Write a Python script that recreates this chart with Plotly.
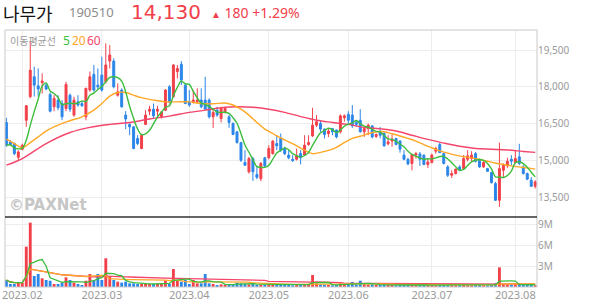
import pandas as pd
import plotly.graph_objects as go

# ---------------- data ----------------
HOLIDAYS = ["2023-03-01", "2023-05-01", "2023-05-05", "2023-05-29", "2023-06-06"]
dates = [d for d in pd.bdate_range("2023-01-26", "2023-08-08")
         if d.strftime("%Y-%m-%d") not in HOLIDAYS]

open_ = [16550,15760,15690,15130,15460,16640,17600,18410,18040,18170,
         18070,17690,17190,17460,17320,17120,17660,16850,17390,17320,
         16780,17870,18510,18070,18480,18210,19050,19050,17660,17870,
         16850,16470,16370,15900,15490,16470,17010,17090,17010,16780,
         17050,18000,17600,18620,18920,18070,17390,17390,17390,17460,
         17460,17460,16780,17050,16710,16980,16780,16510,16170,15730,
         14920,14540,15080,14430,14260,15110,15110,15280,15690,15900,
         15490,15220,15050,15050,15280,15220,15650,16000,16440,16510,
         16280,16100,16300,16240,16170,16740,16880,16850,16550,16640,
         16170,16300,16410,15980,16170,16100,15680,15790,15900,15790,
         15220,15050,14880,15220,15270,15220,14840,14920,15380,15650,
         15280,14740,14400,14470,14740,14670,15050,15080,15280,15010,
         14740,14670,14510,14060,13380,14600,14780,15050,14920,15150,
         14740,14470,14200,13950]

high = [16740,15830,15730,15420,15690,17260,19840,18820,18750,18550,
        18140,17770,17660,17660,17460,18210,17730,17600,17660,17420,
        17960,18620,18890,18750,19230,19770,19700,19160,18140,17940,
        17010,16510,16410,16030,16090,17050,17230,17320,17230,17010,
        17910,18070,18920,18890,19050,18140,17870,17870,17940,17940,
        18410,17530,17050,17190,17190,17190,16850,16550,16200,15760,
        15420,15150,15150,14740,14940,15150,15620,15830,16030,16100,
        15560,15420,15220,15490,15420,16030,16030,17150,16850,16640,
        16300,16300,16330,16260,16880,16880,17010,17260,16640,17090,
        16370,16510,16440,16100,16370,16170,16030,16060,15920,15830,
        15420,15110,15280,15350,15350,15240,15080,15280,15560,15730,
        15320,14810,14600,14670,14810,15220,15420,15380,15350,15080,
        14970,14700,14540,14130,15730,14880,15110,15220,15420,15680,
        14810,14510,14330,14200]

low = [15560,15600,15220,14970,15420,16370,17530,17600,17600,17730,
       17870,16960,17010,17050,16640,17010,16980,16780,17190,17190,
       16640,17800,17800,17870,17800,18140,18750,17940,17600,17150,
       16280,16030,15460,15620,15460,16440,16850,16710,16780,16710,
       17010,17320,17560,18340,18070,17300,17190,17320,17320,17120,
       17050,16710,16330,16780,16550,16920,16330,16030,15690,14940,
       14780,14470,14170,14240,14160,14740,15050,15240,15420,15350,
       15220,15050,14940,15000,14840,15190,15600,15960,16370,16170,
       15900,15960,16030,15900,16100,16580,16470,16330,16370,16140,
       15960,16030,15900,15920,15900,15560,15620,15560,15620,15320,
       15010,14810,14600,15080,14780,14810,14700,14880,15280,15320,
       14840,14330,14290,14430,14560,14650,14970,14970,14920,14700,
       14700,14540,14060,13350,13110,14330,14700,14810,14880,14810,
       14430,14200,13920,13860]

close = [15620,15650,15280,15350,15620,17230,18680,18070,17910,18240,
         17910,17010,17530,17150,16780,18100,17090,17460,17260,17230,
         17940,18410,17870,18000,17870,18890,19300,18000,17800,17190,
         16690,16370,15490,15690,16030,16850,17090,16820,17090,16980,
         17870,17390,18890,18750,18280,17320,17260,17460,17460,17190,
         17090,16780,16960,16850,17120,17120,16550,16060,15730,15010,
         14810,15080,14540,14320,14880,14780,15490,15790,15600,15420,
         15280,15110,15000,15190,15110,15620,15730,16440,16580,16280,
         16060,16200,16170,15960,16820,16820,16640,16410,16470,16170,
         16300,16440,15960,16060,16030,15600,15760,15870,15650,15460,
         15050,14860,15240,15280,15050,14840,14940,15220,15490,15320,
         14880,14400,14470,14650,14600,15080,15190,15220,14970,14740,
         14920,14560,14100,13380,14670,14840,14970,14970,15080,14880,
         14470,14240,13950,14130]

volume_k = [1000,430,430,620,620,5760,9190,1570,1860,1240,
            1000,900,430,430,620,1380,1000,620,430,290,
            900,1860,1000,1860,1000,4100,1570,1000,760,620,
            760,520,520,430,430,430,430,430,430,430,
            900,430,2570,900,760,1000,430,1000,520,520,
            1860,520,430,290,380,290,330,380,620,520,
            430,380,430,290,330,290,380,520,380,330,
            290,290,240,290,330,430,380,1710,520,380,
            330,290,240,290,520,330,430,710,330,900,
            380,330,380,290,290,430,290,290,240,290,
            330,290,380,240,290,330,240,290,240,290,
            330,380,240,240,240,330,240,240,290,290,
            240,240,380,520,2800,430,330,290,380,430,
            330,330,290,240]

# moving averages (they include data before the visible window)
ma20_x = [0,2,4,6,8,10,13,16,19,22,24,26,28,30,32,34,37,40,43,46,49,52,55,57,59,61,
          63,65,67,69,71,73,75,77,79,81,83,85,87,89,91,93,95,97,99,101,103,105,107,109,
          111,113,115,117,119,121,123,125,127,129,131,133]
ma20_v = [15870,15690,15520,15730,15960,16200,16440,16620,16780,17050,17320,17620,17770,
          17770,17660,17560,17460,17390,17390,17390,17320,17310,17340,17260,17090,16850,
          16550,16280,16100,15920,15760,15600,15420,15280,15330,15410,15540,15730,15900,
          15990,16090,16170,16170,16090,16000,15900,15790,15650,15520,15390,15300,15220,
          15160,15110,15040,14970,14900,14840,14780,14740,14700,14650]
ma60_x = [0,4,10,16,21,26,31,36,41,46,50,54,58,62,66,70,74,78,82,86,90,94,98,102,106,
          110,114,118,122,126,130,133]
ma60_v = [14810,15080,15690,16140,16350,16470,16550,16690,16810,16960,17050,17150,17190,
          17170,17090,16960,16790,16640,16550,16470,16350,16290,16200,16030,15860,15710,
          15580,15490,15460,15430,15370,15330]

price_ticks = [13500, 15000, 16500, 18000, 19500]
vol_ticks = [3_000_000, 6_000_000, 9_000_000]
vol_tick_text = ["3M", "6M", "9M"]

# ---------------- derived ----------------
volume = [v * 1000 for v in volume_k]
x = list(range(len(close)))
ma5 = pd.Series(close).rolling(5, min_periods=1).mean()
vs = pd.Series(volume)
vma5 = vs.rolling(5, min_periods=1).mean()
vma20 = vs.rolling(20, min_periods=1).mean()
vma60 = vs.rolling(60, min_periods=1).mean()

month_ticks, month_labels = [], []
prev = None
for i, d in enumerate(dates[:len(close)]):
    m = d.strftime("%Y.%m")
    if prev is not None and m != prev:
        month_ticks.append(i)
        month_labels.append(m)
    prev = m

RED = "#f2404a"
BLUE = "#2b86e8"
GREEN = "#3cbd3c"
ORANGE = "#ffa726"
PINK = "#f5456b"
GRID = "#ededed"
vol_colors = [RED if c >= o else BLUE for o, c in zip(open_, close)]

fig = go.Figure()
fig.add_trace(go.Bar(x=x, y=volume, marker=dict(color=vol_colors, line=dict(width=0)),
                     xaxis="x", yaxis="y", hoverinfo="skip"))
for s, col in [(vma60, PINK), (vma20, ORANGE), (vma5, GREEN)]:
    fig.add_trace(go.Scatter(x=x, y=s, mode="lines", line=dict(color=col, width=1.3),
                             xaxis="x", yaxis="y", hoverinfo="skip"))

fig.add_trace(go.Candlestick(
    x=x, open=open_, high=high, low=low, close=close,
    increasing=dict(line=dict(color=RED, width=1), fillcolor=RED),
    decreasing=dict(line=dict(color=BLUE, width=1), fillcolor=BLUE),
    whiskerwidth=0, xaxis="x2", yaxis="y2", hoverinfo="skip"))
fig.add_trace(go.Scatter(x=ma60_x, y=ma60_v, mode="lines", line=dict(color=PINK, width=1.4, shape="spline"),
                         xaxis="x2", yaxis="y2", hoverinfo="skip"))
fig.add_trace(go.Scatter(x=ma20_x, y=ma20_v, mode="lines", line=dict(color=ORANGE, width=1.4, shape="spline"),
                         xaxis="x2", yaxis="y2", hoverinfo="skip"))
fig.add_trace(go.Scatter(x=x, y=ma5, mode="lines", line=dict(color=GREEN, width=1.4, shape="spline"),
                         xaxis="x2", yaxis="y2", hoverinfo="skip"))

# layout geometry (pixels)
W, H = 594, 304
L, R, T, B = 2, 57, 30, 17
plot_w = W - L - R
plot_h = H - T - B
vol_frac = 70 / plot_h

def fx(px):
    return (px - L) / plot_w

def fy(py):
    return (H - B - py) / plot_h

tickfont = dict(family="Noto Sans", size=10, color="#9a9a9a")
fig.update_layout(
    width=W, height=H, margin=dict(l=L, r=R, t=T, b=B),
    paper_bgcolor="white", plot_bgcolor="white", showlegend=False,
    bargap=0.28,
    xaxis=dict(domain=[0, 1], anchor="y", range=[-0.35, 133.45], tickmode="array",
               tickvals=month_ticks, ticktext=month_labels, showgrid=True, gridcolor=GRID,
               gridwidth=1, zeroline=False, showline=False, ticks="",
               ticklabeloverflow="allow",
               tickfont=dict(family="Noto Sans", size=11, color="#9a9a9a"),
               rangeslider=dict(visible=False), fixedrange=True),
    xaxis2=dict(anchor="y2", matches="x", tickmode="array", tickvals=month_ticks,
                showticklabels=False, showgrid=True, gridcolor=GRID, gridwidth=1,
                zeroline=False, showline=False, ticks="", rangeslider=dict(visible=False)),
    yaxis=dict(domain=[0, vol_frac], range=[0, 10_000_000], side="right", tickmode="array",
               tickvals=vol_ticks, ticktext=vol_tick_text, showgrid=True, gridcolor=GRID,
               zeroline=False, showline=False, ticks="", tickfont=tickfont, anchor="x"),
    yaxis2=dict(domain=[vol_frac, 1], range=[12700, 20315], side="right", tickmode="array",
                tickvals=price_ticks, ticktext=[f"{v:,}" for v in price_ticks],
                showgrid=True, gridcolor=GRID, zeroline=False, showline=False, ticks="",
                tickfont=tickfont, anchor="x2"),
    shapes=[
        dict(type="rect", xref="paper", yref="paper", x0=0, x1=1, y0=0, y1=1,
             line=dict(color="#c9c9c9", width=1)),
        dict(type="line", xref="paper", yref="paper", x0=0, x1=1, y0=vol_frac, y1=vol_frac,
             line=dict(color="#333333", width=1.5)),
    ],
)

KR = "Noto Sans CJK KR"
last, prev_close = close[-1], close[-2]
chg = last - prev_close
pct = chg / prev_close * 100
ann = [
    dict(x=fx(-1), y=fy(13.2), text="나무가", font=dict(family=KR, size=18, color="#111111")),
    dict(x=fx(65), y=fy(12), text="190510", font=dict(family="Noto Sans", size=13, color="#8c8c8c")),
    dict(x=fx(128), y=fy(12), text=f"{last:,}", font=dict(family="DejaVu Sans", size=20, color=RED)),
    dict(x=fx(208), y=fy(12), text=f"<span style='font-size:10px'>▲</span> {chg:,} +{pct:.2f}%",
         font=dict(family="Noto Sans", size=14, color=RED)),
    dict(x=fx(6), y=fy(41), text="이동평균선", font=dict(family=KR, size=10, color="#9a9a9a")),
    dict(x=fx(59), y=fy(41), text="5", font=dict(family="Noto Sans", size=12, color=GREEN)),
    dict(x=fx(68), y=fy(41), text="20", font=dict(family="Noto Sans", size=12, color=ORANGE)),
    dict(x=fx(83), y=fy(41), text="60", font=dict(family="Noto Sans", size=12, color=PINK)),
    dict(x=fx(5), y=fy(205), text="©PAXNet",
         font=dict(family="DejaVu Sans", size=15, color="#c6c6c6", weight="bold")),
]
for a in ann:
    a.update(xref="paper", yref="paper", xanchor="left", yanchor="middle", showarrow=False,
             borderpad=0)
fig.update_layout(annotations=ann)

fig.write_html("out.html", config={"displayModeBar": False, "staticPlot": True})
